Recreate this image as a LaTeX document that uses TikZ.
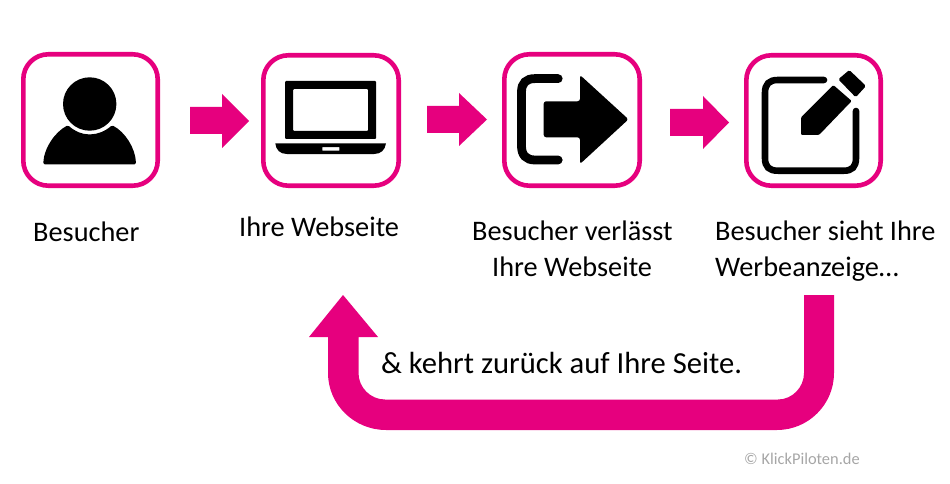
\documentclass[tikz,border=0pt]{standalone}
\usepackage{fontspec}
\setmainfont{Carlito}
\definecolor{klick}{HTML}{E6007E}
\tikzset{
  tile/.style={draw=klick,line width=4.6pt,rounded corners=25pt,fill=white,inner sep=0pt,outer sep=0pt,anchor=north west},
  blockarrow/.style={fill=klick,draw=none},
  icon/.style={fill=black,draw=none},
  iconline/.style={draw=black,fill=none,line cap=round},
  label/.style={anchor=base west,inner sep=0pt,font=\fontsize{28.3}{34}\selectfont},
}
\begin{document}
\begin{tikzpicture}[x=1pt,y=-1pt]
\useasboundingbox (0,0) rectangle (950,484);
% tiles
\node[tile,minimum width=134.4pt,minimum height=131.4pt] (t1) at (23.3,54.3) {};
\node[tile,minimum width=135.4pt,minimum height=130.4pt] (t2) at (263.3,55.3) {};
\node[tile,minimum width=135.4pt,minimum height=131.4pt] (t3) at (504.3,54.3) {};
\node[tile,minimum width=134.4pt,minimum height=130.4pt] (t4) at (746.3,55.3) {};
% small arrows
\fill[blockarrow] (190,107) -- (222,107) -- (222,94) -- (249,121) -- (222,148) -- (222,134) -- (190,134) -- cycle;
\fill[blockarrow] (427,106) -- (459,106) -- (459,93) -- (487,119.5) -- (459,146) -- (459,133) -- (427,133) -- cycle;
\fill[blockarrow] (670,109) -- (703,109) -- (703,96) -- (729,122.5) -- (703,149) -- (703,136) -- (670,136) -- cycle;
% person
\fill[icon] (89.7,104) circle (26.7);
\fill[icon,rounded corners=1.5pt] (43.2,164.3) .. controls (44,148) and (55,132) .. (68,125.2)
  .. controls (75,131.5) and (82,134.3) .. (89.7,134.3) .. controls (97,134.3) and (105,131.5) .. (112,125.2)
  .. controls (125,132) and (135.5,148) .. (136,164.3) -- cycle;
% laptop
\fill[icon,rounded corners=1pt,even odd rule] (285,81) rectangle (376,139) (293,89) rectangle (368,131);
\fill[icon,even odd rule] (275.3,143.3) -- (386,143.3) .. controls (385,150) and (381,154) .. (374,154) -- (287,154) .. controls (280,154) and (276,150) .. (275.3,143.3) -- cycle
  (322.3,147) rectangle (339.3,150.5);
% exit
\draw[iconline,line width=8.8pt] (558.2,78.6) -- (535,78.6) .. controls (526,78.6) and (521.5,83) .. (521.5,92) -- (521.5,146) .. controls (521.5,155) and (526,160) .. (535,160) -- (558.2,160);
\fill[icon,rounded corners=2.5pt] (543.7,101.3) -- (580,101.3) -- (580,75) -- (628.5,119.3) -- (580,164) -- (580,137.3) -- (543.7,137.3) -- cycle;
% note
\draw[iconline,line width=6.6pt] (824,80) -- (778,80) .. controls (769,80) and (765,84) .. (765,93) -- (765,158) .. controls (765,167) and (769,170.7) .. (778,170.7) -- (844,170.7) .. controls (852,170.7) and (856,167) .. (856,158) -- (856,111);
\fill[icon,rounded corners=1.2pt] (801,117.3) -- (833.3,85) -- (851.7,101) -- (819,135) -- (801,135) -- cycle;
\fill[icon,rounded corners=1.5pt] (838.3,79.3) -- (849.3,70) -- (866,86) -- (855.7,97.3) -- cycle;
% return arrow
\fill[blockarrow] (834,295) -- (834,373) .. controls (834,404.4) and (808.4,430) .. (777,430) -- (386,430)
  .. controls (354,430) and (328,404.4) .. (328,373) -- (328,337) -- (309,337) -- (343,295) -- (378,337) -- (358.5,337) -- (358.5,373)
  .. controls (358.5,387.5) and (370.5,399.5) .. (385,399.5) -- (778,399.5) .. controls (792.3,399.5) and (804,387.3) .. (804,373) -- (804,295) -- cycle;
% labels
\node[label] (l1) at (33,241) {Besucher};
\node[label] (l2) at (239,236) {Ihre Webseite};
\node[label] (l3a) at (472,240) {Besucher verlässt};
\node[label] (l3b) at (492,276) {Ihre Webseite};
\node[label] (l4a) at (715,240) {Besucher sieht Ihre};
\node[label] (l4b) at (715,276) {Werbeanzeige…};
\node[label,font=\fontsize{30.6}{36}\selectfont] (back) at (381,373) {\& kehrt zurück auf Ihre Seite.};
\node[label,font=\fontsize{16.4}{20}\selectfont,text=black!35] (copy) at (744,464) {© KlickPiloten.de};
\end{tikzpicture}
\end{document}
